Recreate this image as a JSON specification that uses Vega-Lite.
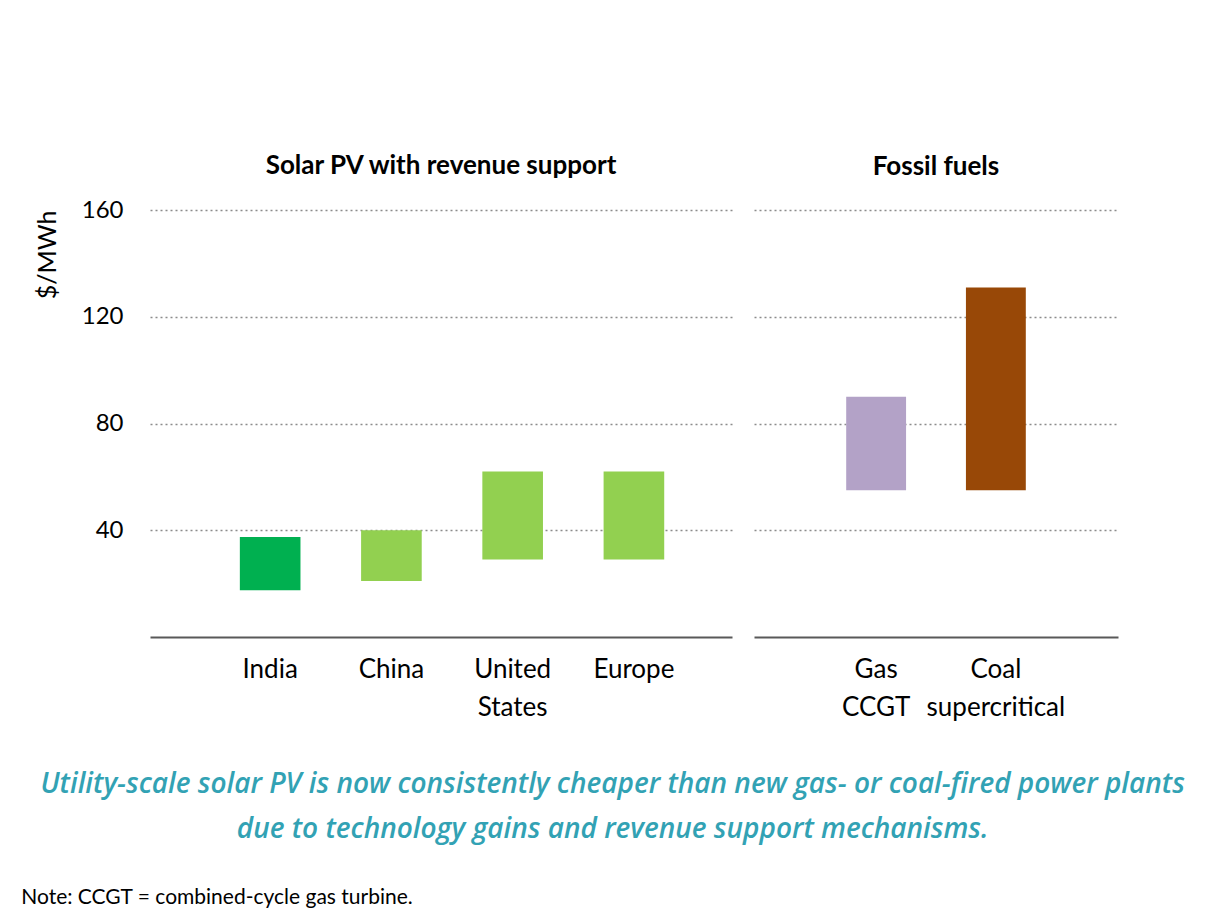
{
  "$schema": "https://vega.github.io/schema/vega-lite/v6.json",
  "background": "white",
  "padding": {"left": 21, "top": 153, "right": 10, "bottom": 10},
  "config": {
    "font": "Lato",
    "view": {"stroke": null},
    "axis": {"labelColor": "black", "titleColor": "black", "labelFontSize": 24, "titleFontSize": 25, "titleFontWeight": "normal", "gridColor": "#8c8c8c", "gridDash": [2, 3], "gridWidth": 1.5},
    "title": {"fontSize": 26, "fontWeight": "bold", "color": "black"}
  },
  "title": {"text": "Note: CCGT = combined-cycle gas turbine.", "orient": "bottom", "anchor": "start", "fontSize": 21, "fontWeight": "normal", "color": "black", "offset": 43, "dx": -14},
  "vconcat": [
    {
      "title": {"text": ["Utility-scale solar PV is now consistently cheaper than new gas- or coal-fired power plants", "due to technology gains and revenue support mechanisms."], "orient": "bottom", "anchor": "middle", "font": "Open Sans", "fontSize": 28, "fontStyle": "italic", "fontWeight": 600, "color": "#32a2b4", "lineHeight": 45, "offset": 51, "dx": 36},
      "spacing": 22,
      "hconcat": [
        {
          "width": 582,
          "height": 427,
          "title": {"text": "Solar PV with revenue support", "offset": 19},
          "data": {"values": [
            {"name": "India", "low": 17.5, "high": 37.5},
            {"name": "China", "low": 21, "high": 40},
            {"name": "United States", "low": 29, "high": 62},
            {"name": "Europe", "low": 29, "high": 62}
          ]},
          "mark": {"type": "bar"},
          "encoding": {
            "x": {"field": "name", "type": "nominal", "sort": null,
              "scale": {"paddingInner": 0.5, "paddingOuter": 0.65, "align": 0.57},
              "axis": {"title": null, "labelAngle": 0, "labelFontSize": 26, "ticks": false, "grid": false, "domainColor": "#595959", "domainWidth": 2, "labelPadding": 19, "labelExpr": "split(datum.label, ' ')", "labelLineHeight": 38, "labelBaseline": "top"}},
            "y": {"field": "low", "type": "quantitative", "scale": {"domain": [0, 160]},
              "axis": {"title": "$/MWh", "titleAnchor": "end", "titlePadding": 21, "values": [40, 80, 120, 160], "ticks": false, "domain": false, "labelPadding": 27, "grid": true}},
            "y2": {"field": "high"},
            "color": {"field": "name", "type": "nominal", "legend": null,
              "scale": {"domain": ["India", "China", "United States", "Europe", "Gas CCGT", "Coal supercritical"], "range": ["#00b050", "#92d050", "#92d050", "#92d050", "#b3a2c7", "#984807"]}}
          }
        },
        {
          "width": 364,
          "height": 427,
          "title": {"text": "Fossil fuels", "offset": 30},
          "data": {"values": [
            {"name": "Gas CCGT", "low": 55, "high": 90},
            {"name": "Coal supercritical", "low": 55, "high": 131}
          ]},
          "mark": {"type": "bar"},
          "encoding": {
            "x": {"field": "name", "type": "nominal", "sort": null,
              "scale": {"paddingInner": 0.5, "paddingOuter": 0.77, "align": 0.5},
              "axis": {"title": null, "labelAngle": 0, "labelFontSize": 26, "ticks": false, "grid": false, "domainColor": "#595959", "domainWidth": 2, "labelPadding": 19, "labelExpr": "split(datum.label, ' ')", "labelLineHeight": 38, "labelBaseline": "top"}},
            "y": {"field": "low", "type": "quantitative", "scale": {"domain": [0, 160]},
              "axis": {"title": null, "values": [40, 80, 120, 160], "labels": false, "ticks": false, "domain": false, "grid": true}},
            "y2": {"field": "high"},
            "color": {"field": "name", "type": "nominal", "legend": null,
              "scale": {"domain": ["India", "China", "United States", "Europe", "Gas CCGT", "Coal supercritical"], "range": ["#00b050", "#92d050", "#92d050", "#92d050", "#b3a2c7", "#984807"]}}
          }
        }
      ]
    }
  ]
}
